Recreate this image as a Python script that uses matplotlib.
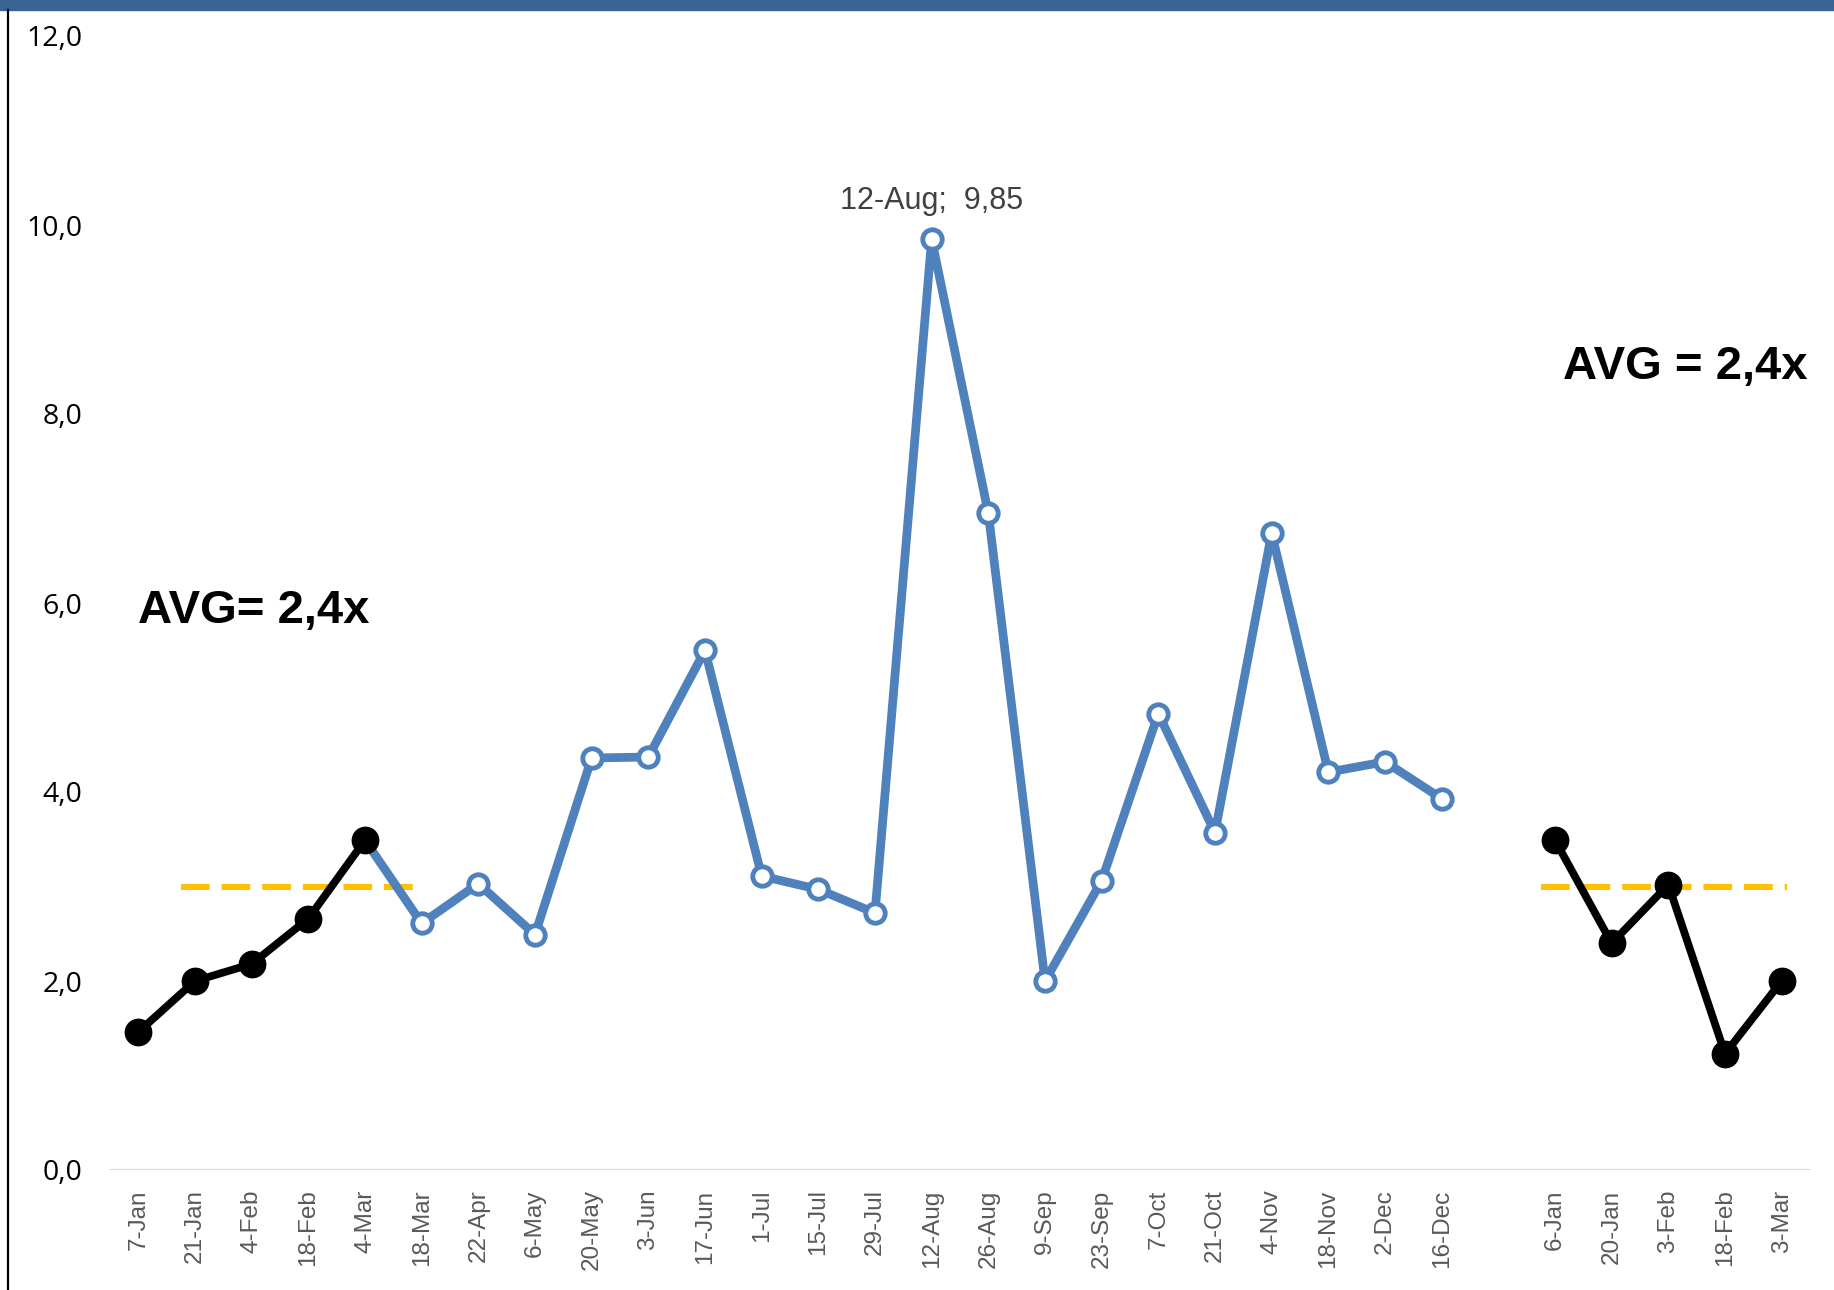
import numpy as np
import matplotlib
matplotlib.use("Agg")
import matplotlib.pyplot as plt
from matplotlib.patches import Rectangle
from matplotlib.lines import Line2D

# category labels along x (blank slot separates the two periods)
labels = ['7-Jan', '21-Jan', '4-Feb', '18-Feb', '4-Mar', '18-Mar', '22-Apr', '6-May',
          '20-May', '3-Jun', '17-Jun', '1-Jul', '15-Jul', '29-Jul', '12-Aug', '26-Aug',
          '9-Sep', '23-Sep', '7-Oct', '21-Oct', '4-Nov', '18-Nov', '2-Dec', '16-Dec',
          '', '6-Jan', '20-Jan', '3-Feb', '18-Feb', '3-Mar']

# before period (black), middle period (blue), after period (black)
before_vals = [1.46, 2.00, 2.18, 2.66, 3.49]
middle_vals = [3.49, 2.61, 3.03, 2.49, 4.36, 4.37, 5.50, 3.11, 2.97, 2.72,
               9.85, 6.95, 2.00, 3.06, 4.83, 3.57, 6.74, 4.21, 4.32, 3.93]
after_vals = [3.49, 2.40, 3.02, 1.23, 2.00]

avg_level = 3.0
avg_left_span = (0.75, 4.9)
avg_right_span = (24.75, 29.1)

peak_label = '12-Aug;  9,85'
peak_idx = 14

x_before = np.arange(0, 5)
x_middle = np.arange(4, 24)
x_after = np.arange(25, 30)

BLUE = '#4F81BD'
ORANGE = '#FFC000'

fig = plt.figure(figsize=(18.34, 12.90), dpi=100)
ax = fig.add_axes([110 / 1834, 120 / 1290, 1700 / 1834, 1134 / 1290])

# average lines
ax.plot(avg_left_span, [avg_level, avg_level], color=ORANGE, lw=4.3,
        dashes=(4.8, 2.0), solid_capstyle='butt', dash_capstyle='butt', zorder=2)
ax.plot(avg_right_span, [avg_level, avg_level], color=ORANGE, lw=4.3,
        dashes=(4.8, 2.0), solid_capstyle='butt', dash_capstyle='butt', zorder=2)

# middle period
ax.plot(x_middle, middle_vals, color=BLUE, lw=6.3, marker='o', ms=14,
        mfc='white', mec=BLUE, mew=3.5, zorder=3)

# before / after periods
ax.plot(x_before, before_vals, color='black', lw=5.6, marker='o', ms=19,
        mfc='black', mec='black', zorder=4)
ax.plot(x_after, after_vals, color='black', lw=5.6, marker='o', ms=19,
        mfc='black', mec='black', zorder=4)

ax.annotate(peak_label, (peak_idx, middle_vals[peak_idx - 4]), xytext=(0, 17),
            textcoords='offset points', ha='center', va='bottom',
            fontsize=22, color='#404040', family='Liberation Sans')

ax.text(0, 5.92, 'AVG= 2,4x', fontsize=34, fontweight='bold',
        family='Liberation Sans', ha='left', va='center')
ax.text(29.45, 8.5, 'AVG = 2,4x', fontsize=34, fontweight='bold',
        family='Liberation Sans', ha='right', va='center')

ax.set_xlim(-0.5, 29.5)
ax.set_ylim(0, 12)
ax.set_xticks(np.arange(len(labels)))
ax.set_xticklabels(labels, rotation=90, fontsize=17.5, color='#595959',
                   family='Liberation Sans')
yt = np.arange(0, 13, 2)
ax.set_yticks(yt)
ax.set_yticklabels([f'{v:.1f}'.replace('.', ',') for v in yt], fontsize=20.5,
                   family='Open Sans', color='black')
ax.tick_params(axis='both', length=0)
ax.tick_params(axis='x', pad=14)
ax.tick_params(axis='y', pad=20)
for s in ax.spines.values():
    s.set_visible(False)
ax.axhline(0, color='#D9D9D9', lw=1.6, zorder=1)

# frame pieces: top band and left rule
fig.patches.append(Rectangle((0, 1 - 10 / 1290), 1, 10 / 1290,
                             transform=fig.transFigure, color='#3A6396', zorder=0))
fig.add_artist(Line2D([8 / 1834, 8 / 1834], [0, 1 - 10 / 1290],
                      transform=fig.transFigure, color='black', lw=1.6))

fig.savefig('out.png', dpi=100)
